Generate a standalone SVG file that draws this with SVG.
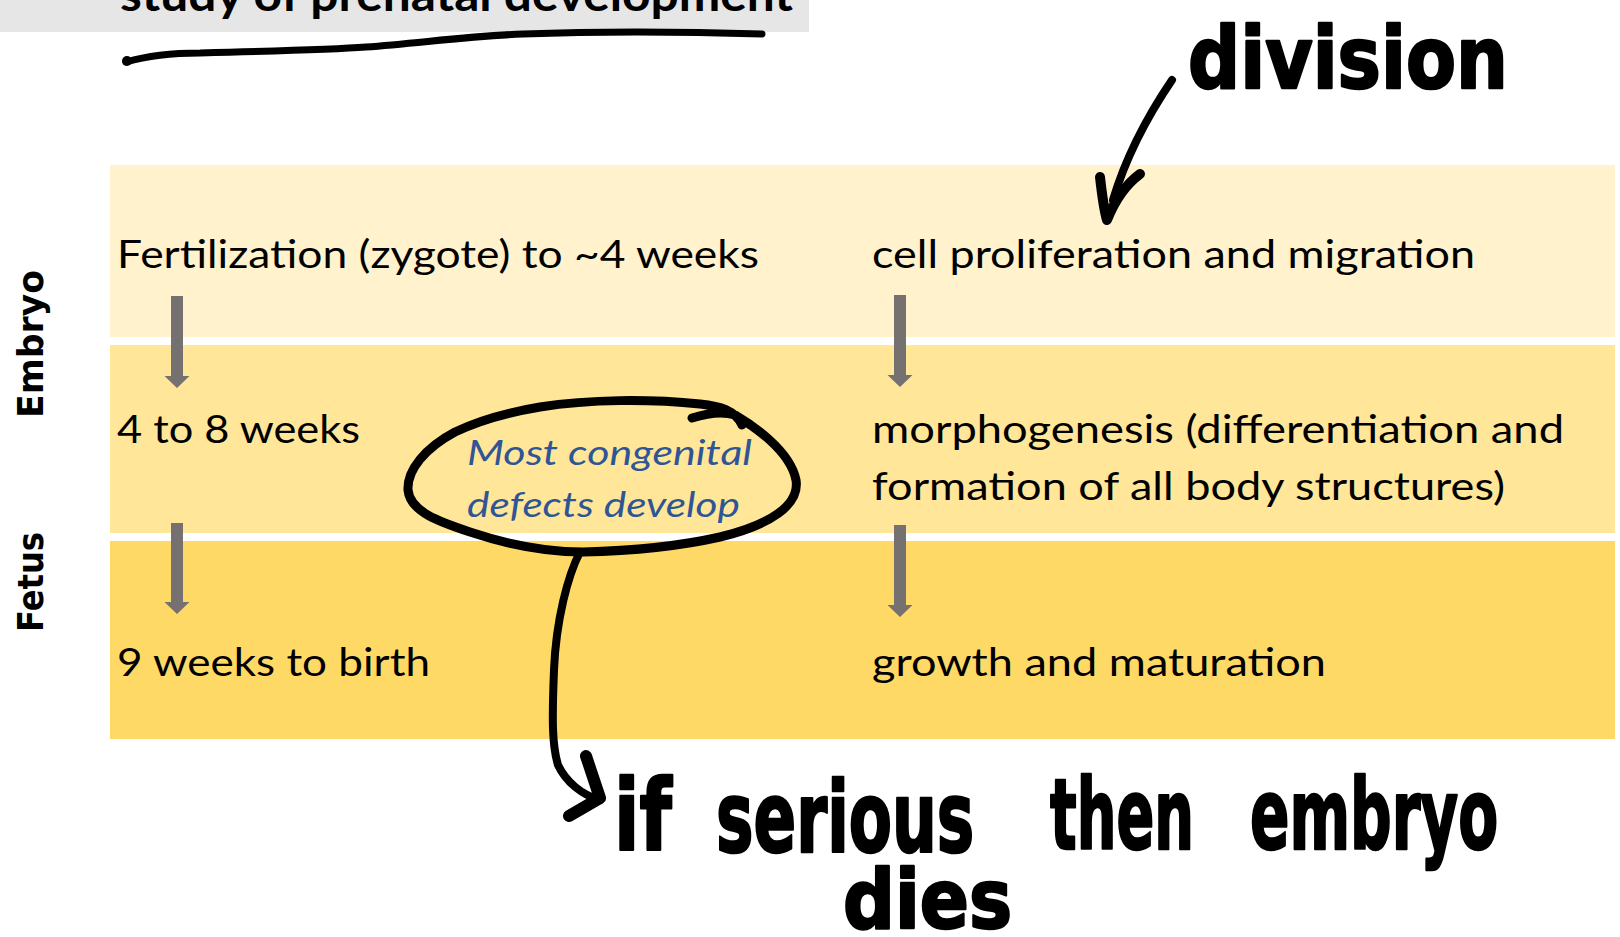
<svg xmlns="http://www.w3.org/2000/svg" width="1620" height="937" viewBox="0 0 1620 937">
<defs>
<style>
.body{font-family:Lato,"Open Sans","Liberation Sans",sans-serif;font-size:39px;fill:#000}
.note{font-family:Lato,"Open Sans","Liberation Sans",sans-serif;font-size:35px;font-style:italic;fill:#2F5597}
.side{font-family:"DejaVu Sans","Liberation Sans",sans-serif;font-size:35px;font-weight:bold;fill:#000}
.title{font-family:Lato,"Open Sans","Liberation Sans",sans-serif;font-size:46px;font-weight:bold;fill:#000}
.hand{font-family:"DejaVu Sans","Liberation Sans",sans-serif;font-weight:bold;fill:#000;stroke:#000;stroke-width:2.5;stroke-linejoin:round}
.ink{fill:none;stroke:#000;stroke-linecap:round;stroke-linejoin:round}
.garrow{fill:#767171}
</style>
</defs>
<rect width="1620" height="937" fill="#ffffff"/>

<g id="title">
<rect x="0" y="0" width="809" height="32" fill="#E7E6E6"/>
<text class="title" x="120" y="11" textLength="673" lengthAdjust="spacingAndGlyphs">study of prenatal development</text>
</g>

<g id="band-1">
<rect x="110" y="165" width="1505" height="172" fill="#FFF2CC"/>
<text class="body" x="117" y="268" textLength="642" lengthAdjust="spacingAndGlyphs">Fertilization (zygote) to ~4 weeks</text>
<text class="body" x="872" y="268" textLength="603" lengthAdjust="spacingAndGlyphs">cell proliferation and migration</text>
</g>

<g id="band-2">
<rect x="110" y="345" width="1505" height="188" fill="#FFE699"/>
<text class="body" x="117" y="443" textLength="243" lengthAdjust="spacingAndGlyphs">4 to 8 weeks</text>
<text class="body" x="872" y="443" textLength="692" lengthAdjust="spacingAndGlyphs">morphogenesis (differentiation and</text>
<text class="body" x="872" y="500" textLength="633" lengthAdjust="spacingAndGlyphs">formation of all body structures)</text>
</g>

<g id="band-3">
<rect x="110" y="541" width="1505" height="198" fill="#FFD966"/>
<text class="body" x="117" y="676" textLength="313" lengthAdjust="spacingAndGlyphs">9 weeks to birth</text>
<text class="body" x="872" y="676" textLength="454" lengthAdjust="spacingAndGlyphs">growth and maturation</text>
</g>

<g id="label-embryo">
<text class="side" transform="translate(43,344) rotate(-90)" text-anchor="middle" textLength="148" lengthAdjust="spacingAndGlyphs">Embryo</text>
</g>
<g id="label-fetus">
<text class="side" transform="translate(43,582) rotate(-90)" text-anchor="middle" textLength="100" lengthAdjust="spacingAndGlyphs">Fetus</text>
</g>

<g id="note-defects">
<text class="note" x="467" y="465" textLength="285" lengthAdjust="spacingAndGlyphs">Most congenital</text>
<text class="note" x="467" y="517" textLength="273" lengthAdjust="spacingAndGlyphs">defects develop</text>
</g>

<g id="hand-division">
<text class="hand" transform="translate(1188,88) scale(0.86,1)" font-size="85" textLength="372" lengthAdjust="spacingAndGlyphs">division</text>
</g>

<g id="hand-serious">
<text class="hand" transform="translate(614,850) scale(0.74,1)" font-size="98" textLength="78" lengthAdjust="spacingAndGlyphs">if</text>
<text class="hand" transform="translate(716,852) scale(0.63,1)" font-size="98" textLength="410" lengthAdjust="spacingAndGlyphs">serious</text>
<text class="hand" transform="translate(1050,849) scale(0.56,1)" font-size="98" textLength="257" lengthAdjust="spacingAndGlyphs">then</text>
<text class="hand" transform="translate(1250,849) scale(0.58,1)" font-size="98" textLength="428" lengthAdjust="spacingAndGlyphs">embryo</text>
<text class="hand" transform="translate(843,928) scale(0.85,1)" font-size="82" textLength="199" lengthAdjust="spacingAndGlyphs">dies</text>
</g>

<g id="connectors">
<path class="garrow" d="M171,296 h12 v80 h6.5 l-12.5,12 l-12.5,-12 h6.5 z"/>
<path class="garrow" d="M894,295 h12 v80 h6.5 l-12.5,12 l-12.5,-12 h6.5 z"/>
<path class="garrow" d="M171,523 h12 v79 h6.5 l-12.5,12 l-12.5,-12 h6.5 z"/>
<path class="garrow" d="M894,525 h12 v80 h6.5 l-12.5,12 l-12.5,-12 h6.5 z"/>

<path class="ink" stroke-width="7" d="M126,62 C150,55 180,53 200,53 C280,51 340,49 366,47 C420,43 470,36 523,34 C600,31 700,32 762,34"/>
<circle cx="127" cy="61" r="5" fill="#000"/>

<path class="ink" stroke-width="8" d="M1172,80 C1155,105 1128,150 1113,200"/>
<path class="ink" stroke-width="10" d="M1100,177 C1102,195 1104,210 1107,220 C1115,200 1125,185 1140,174"/>

<path class="ink" stroke-width="9" d="M692,418 C705,414 722,411 735,415 C752,425 790,450 796,480 C800,505 770,525 720,537 C680,546 630,551 583,552 C540,552 500,542 470,532 C440,522 410,512 408,490 C407,470 425,448 455,432 C480,420 510,412 540,407 C590,399 650,399 700,404 C720,406 735,410 742,425"/>

<path class="ink" stroke-width="8" d="M580,552 C568,575 556,620 554,670 C552,720 552,745 558,765 C566,782 582,795 600,800"/>
<path class="ink" stroke-width="12" d="M586,756 L600,798 L569,816"/>
</g>
</svg>
